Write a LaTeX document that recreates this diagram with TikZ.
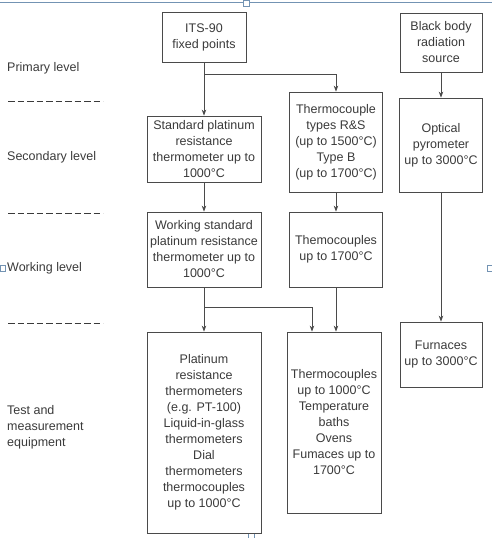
\documentclass[tikz,border=0pt]{standalone}
\usepackage{fontspec}
\setmainfont{Liberation Sans}
\usetikzlibrary{arrows.meta}

\definecolor{txtgray}{HTML}{3A3A3A}
\definecolor{linegray}{HTML}{4A4A4A}
\definecolor{framecol}{HTML}{7393B3}

\newcommand*{\lblx}{7}
\newcommand*{\sepxmin}{8}
\newcommand*{\sepxmax}{103}

\begin{document}
\begin{tikzpicture}
[
	x=1pt, y=-1pt,
	every node/.style={font=\fontsize{12.5}{16}\selectfont},
	box/.style={draw=linegray,line width=0.8pt,align=center,inner sep=1pt,text=txtgray},
	lvl/.style={anchor=west,align=left,inner sep=0pt,text=txtgray},
	sep/.style={draw=txtgray,line width=0.8pt,dash pattern=on 6.5pt off 3pt},
	arr/.style={draw=linegray,line width=0.8pt,-{Stealth[length=6pt,width=4.5pt]}},
	handle/.style={draw=framecol,fill=white,line width=0.5pt}
]
	\useasboundingbox (0,0) rectangle (492,538);

	% frame of the screenshot
	\draw[framecol,line width=0.7pt] (0,2) -- (492,2);
	\draw[handle] (243,0) rectangle (249,6);
	\draw[handle] (0,265) rectangle (5,271);
	\draw[handle] (487,265) rectangle (492,271);
	\draw[handle] (248,533) rectangle (254,538);

	% level labels
	\node[lvl] at (\lblx,68) (primary) {Primary level};
	\node[lvl] at (\lblx,157) (secondary) {Secondary level};
	\node[lvl] at (\lblx,268) (working) {Working level};
	\node[lvl] at (\lblx,427) (test) {Test and\\measurement\\equipment};

	% separators
	\draw[sep] (\sepxmin,101) -- (\sepxmax,101);
	\draw[sep] (\sepxmin,213) -- (\sepxmax,213);
	\draw[sep] (\sepxmin,323) -- (\sepxmax,323);

	% platinum resistance column
	\node[box,minimum width=84pt,minimum height=50pt] at (204,37) (its) {ITS-90\\fixed points};
	\node[box,minimum width=114pt,minimum height=66pt] at (204,149) (stdprt) {Standard platinum\\resistance\\thermometer up to\\1000°C};
	\node[box,minimum width=114pt,minimum height=75pt] at (204,249.5) (workprt) {Working standard\\platinum resistance\\thermometer up to\\1000°C};
	\node[box,minimum width=114pt,minimum height=201pt] at (204,432.5) (testprt) {Platinum\\resistance\\thermometers\\(e.g. PT-100)\\Liquid-in-glass\\thermometers\\Dial\\thermometers\\thermocouples\\up to 1000°C};

	% thermocouple column
	\node[box,minimum width=93pt,minimum height=100pt] at (336,142) (tctypes) {Thermocouple\\types R\&S\\(up to 1500°C)\\Type B\\(up to 1700°C)};
	\node[box,minimum width=93pt,minimum height=75pt] at (336,249.5) (tc1700) {Themocouples\\up to 1700°C};
	\node[box,minimum width=94pt,minimum height=181pt] at (334,422.5) (testtc) {Thermocouples\\up to 1000°C\\Temperature\\baths\\Ovens\\Fumaces up to\\1700°C};

	% radiation column
	\node[box,minimum width=82pt,minimum height=59pt] at (441,42.5) (blackbody) {Black body\\radiation\\source};
	\node[box,minimum width=83pt,minimum height=94pt] at (441,145) (optical) {Optical\\pyrometer\\up to 3000°C};
	\node[box,minimum width=82pt,minimum height=65pt] at (441,354.5) (furnaces) {Furnaces\\up to 3000°C};

	% arrows
	\coordinate (itsfork) at (204,74);
	\coordinate (workfork) at (204,307);
	\draw[arr] (its) -- (stdprt);
	\draw[arr] (itsfork) -| (tctypes.north);
	\draw[arr] (stdprt) -- (workprt);
	\draw[arr] (workprt) -- (testprt);
	\draw[arr] (workfork) -| ([xshift=-22pt]testtc.north);
	\draw[arr] (tctypes) -- (tc1700);
	\draw[arr] (tc1700.south) -- (tc1700.south |- testtc.north);
	\draw[arr] (blackbody) -- (optical);
	\draw[arr] (optical) -- (furnaces);

\end{tikzpicture}
\end{document}
